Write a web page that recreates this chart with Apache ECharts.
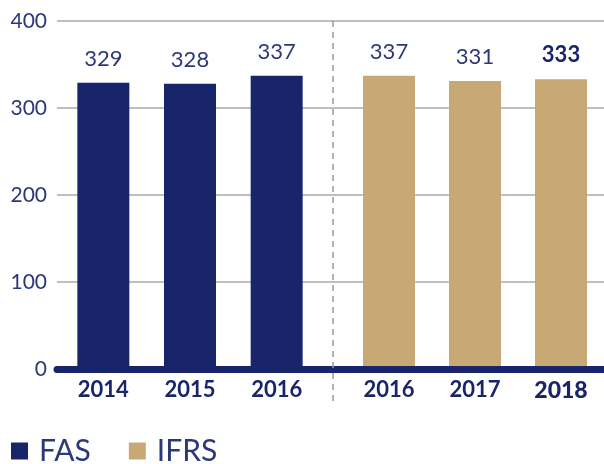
<!DOCTYPE html>
<html>
<head>
<meta charset="utf-8">
<script src="https://cdn.jsdelivr.net/npm/echarts@6/dist/echarts.min.js"></script>
<style>
  html, body { margin: 0; padding: 0; background: #fff; }
  #chart { width: 604px; height: 464px; }
</style>
</head>
<body>
<div id="chart"></div>
<script>
// data
var fasYears = ['2014', '2015', '2016'];
var fasValues = [329, 328, 337];
var ifrsYears = ['2016', '2017', '2018'];
var ifrsValues = [337, 331, 333];
var yTicks = [0, 100, 200, 300, 400];

var navy = '#18256b';
var gold = '#c8a874';
var textColor = '#2c3878';
var font = 'Lato';

var chart = echarts.init(document.getElementById('chart'));

function yearLabel(last) {
  return {
    interval: 0,
    fontFamily: font,
    fontSize: 22,
    fontWeight: 'bold',
    color: navy,
    margin: 10,
    formatter: function (v) {
      return v === last ? '{b|' + v + '}' : v;
    },
    rich: { b: { fontFamily: font, fontSize: 23, fontWeight: 900, color: navy } }
  };
}

var barLabel = {
  show: true,
  position: 'top',
  distance: 13,
  fontFamily: font,
  fontSize: 22,
  color: textColor
};

var ifrsData = ifrsValues.map(function (v, i) {
  if (i === ifrsValues.length - 1) {
    return { value: v, label: { fontWeight: 'bold', color: navy } };
  }
  return v;
});

chart.setOption({
  animation: false,
  legend: {
    left: 6,
    bottom: -7,
    icon: 'rect',
    itemWidth: 17,
    itemHeight: 17,
    itemGap: 38,
    textStyle: { fontFamily: font, fontSize: 30, color: textColor, padding: [0, 0, 0, 6] },
    data: ['FAS', 'IFRS']
  },
  grid: [
    { left: 57, right: 0, top: 21, bottom: 95 },
    { left: 60, width: 260, top: 21, bottom: 95 },
    { left: 346, right: 0, top: 21, bottom: 95 }
  ],
  xAxis: [
    {
      gridIndex: 0, type: 'category', data: [''],
      axisLine: { lineStyle: { color: navy, width: 7 } },
      axisTick: { show: false }, axisLabel: { show: false }, z: 5
    },
    {
      gridIndex: 1, type: 'category', data: fasYears,
      axisLine: { show: false }, axisTick: { show: false },
      axisLabel: yearLabel(null)
    },
    {
      gridIndex: 2, type: 'category', data: ifrsYears,
      axisLine: { show: false }, axisTick: { show: false },
      axisLabel: yearLabel('2018')
    }
  ],
  yAxis: [
    {
      gridIndex: 0, type: 'value',
      min: yTicks[0], max: yTicks[yTicks.length - 1], interval: 100,
      axisLine: { show: false }, axisTick: { show: false },
      axisLabel: { fontFamily: font, fontSize: 21, color: textColor, margin: 10 },
      splitLine: { lineStyle: { color: '#aaaaaa', width: 1.5 } }
    },
    { gridIndex: 1, type: 'value', min: 0, max: 400, show: false, splitLine: { show: false } },
    { gridIndex: 2, type: 'value', min: 0, max: 400, show: false, splitLine: { show: false } }
  ],
  series: [
    {
      name: 'FAS', type: 'bar', xAxisIndex: 1, yAxisIndex: 1,
      barWidth: 52, itemStyle: { color: navy },
      label: barLabel, data: fasValues
    },
    {
      name: 'IFRS', type: 'bar', xAxisIndex: 2, yAxisIndex: 2,
      barWidth: 52, itemStyle: { color: gold },
      label: barLabel, data: ifrsData
    }
  ],
  graphic: [
    {
      type: 'line', z: 10,
      shape: { x1: 333, y1: 21, x2: 333, y2: 405 },
      style: { stroke: '#999999', lineWidth: 1.5, lineDash: [6, 5] }
    }
  ]
});
</script>
</body>
</html>
